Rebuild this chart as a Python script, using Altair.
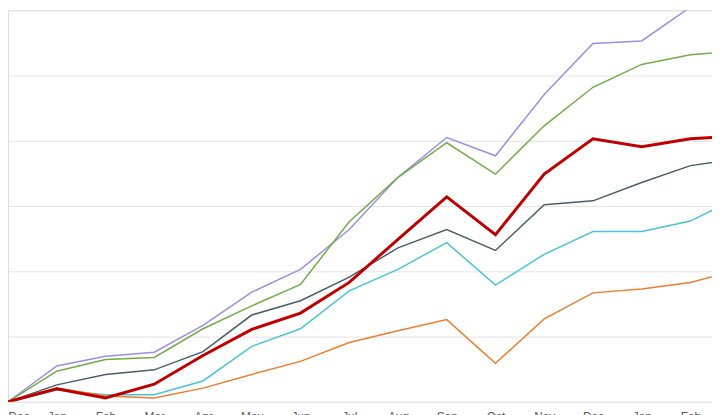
import altair as alt
import pandas as pd

labels = ["Dec", "Jan", "Feb", "Mar", "Apr", "May", "Jun", "Jul", "Aug", "Sep",
          "Oct", "Nov", "Dec", "Jan", "Feb", "Mar"]
idx = list(range(16))

purple = [0, 5.5, 7.0, 7.6, 11.7, 16.8, 20.3, 26.4, 34.4, 40.5, 37.7, 47.1, 54.9, 55.3, 60.5, 65.0]
green = [0, 4.7, 6.5, 6.8, 11.2, 14.7, 18.0, 27.6, 34.4, 39.7, 34.9, 42.3, 48.2, 51.7, 53.2, 53.8]
slate = [0, 2.6, 4.2, 4.9, 7.7, 13.3, 15.5, 19.1, 23.6, 26.4, 23.2, 30.2, 30.8, 33.6, 36.2, 37.3]
red = [0, 2.0, 0.6, 2.7, 7.1, 11.1, 13.6, 18.3, 24.9, 31.4, 25.6, 34.9, 40.3, 39.1, 40.3, 40.8]
cyan = [0, 1.8, 1.1, 1.1, 3.2, 8.5, 11.2, 17.0, 20.3, 24.4, 17.9, 22.6, 26.1, 26.1, 27.7, 31.4]
orange = [0, 2.1, 0.9, 0.6, 2.1, 4.2, 6.2, 9.1, 10.9, 12.6, 5.9, 12.7, 16.7, 17.3, 18.3, 20.3]

series = {"Purple": purple, "Green": green, "Slate": slate, "Cyan": cyan, "Orange": orange}
colors = {"Purple": "#9b8fe0", "Green": "#70ad47", "Slate": "#4a5f6a",
          "Cyan": "#4bc3d7", "Orange": "#ed7d31", "Red": "#c00000"}

rows = []
for name, vals in series.items():
    for i, v in zip(idx, vals):
        rows.append({"i": i, "v": v, "series": name})
thin = pd.DataFrame(rows)
thick = pd.DataFrame({"i": idx, "v": red, "series": "Red"})

label_expr = "[" + ",".join(f"'{l}'" for l in labels) + "][datum.value]"

step = 49.3
W = 712
xscale = alt.Scale(domain=[0, W / step], nice=False, zero=False)
yscale = alt.Scale(domain=[0, 60], nice=False)

xaxis = alt.Axis(values=idx[:15], labelExpr=label_expr, grid=False, ticks=False,
                 domain=False, labelColor="#595959",
                 labelFont="Liberation Sans", labelFontSize=12, labelPadding=10,
                 title=None)
yaxis = alt.Axis(values=[0, 10, 20, 30, 40, 50, 60], labels=False, ticks=False,
                 domain=False, grid=True, gridColor="#e3e3e3", gridWidth=1, title=None)

base_thin = alt.Chart(thin).mark_line(clip=True, strokeWidth=1.5).encode(
    x=alt.X("i:Q", scale=xscale, axis=xaxis),
    y=alt.Y("v:Q", scale=yscale, axis=yaxis),
    color=alt.Color("series:N", scale=alt.Scale(domain=list(colors.keys()),
                                                range=list(colors.values())), legend=None),
    detail="series:N",
)
base_thick = alt.Chart(thick).mark_line(clip=True, strokeWidth=3, color="#c00000").encode(
    x=alt.X("i:Q", scale=xscale, axis=xaxis),
    y=alt.Y("v:Q", scale=yscale, axis=yaxis),
)

chart = alt.layer(base_thin, base_thick).properties(
    width=W, height=396,
    autosize=alt.AutoSizeParams(type="none"),
    padding={"left": 0, "top": 0, "right": 0, "bottom": 11},
).configure_view(stroke=None, strokeWidth=0).configure_axisY(domain=False).configure_axisX(
    grid=False, domain=False
).configure(background="white")

chart.save("out.html", embed_options={"renderer": "svg", "actions": False})
